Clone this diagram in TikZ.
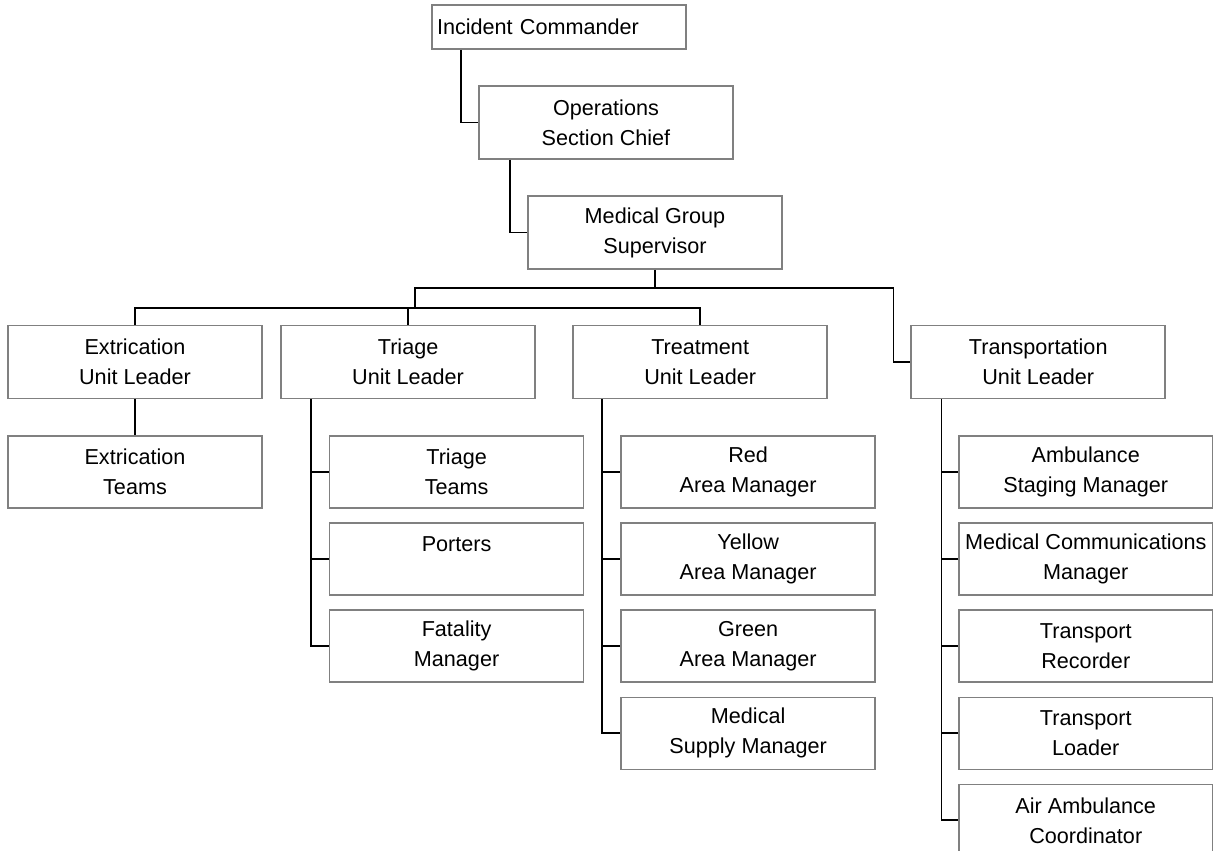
\documentclass[tikz,border=0pt]{standalone}
\usepackage{fontspec}
\setmainfont{Liberation Sans}
\usetikzlibrary{positioning,calc}
\tikzset{org-line/.style={line width=1.1pt}}
\tikzset{org-box/.style={draw=gray, line width=0.9pt, inner sep=2pt, minimum width=5.08cm, minimum height=1.46cm, align=center, font=\fontsize{12.3}{17}\selectfont}}
\tikzset{org-sub/.style={org-box, minimum height=1.44cm}}

\begin{document}
\begin{tikzpicture}
            \useasboundingbox (0,0) rectangle (24.26,-17);

            \node[org-box, minimum height=0.88cm, inner sep=0.1cm, text width=4.88cm, align=left] (ic) at (11.18,-0.54) {Incident Commander};
            \node[org-box] (osc) at (12.12,-2.45) {Operations\\Section Chief};
            \node[org-box] (mgs) at (13.1,-4.65) {Medical Group\\Supervisor};

            \node[org-box] (ext) at (2.7,-7.24) {Extrication\\Unit Leader};
            \node[org-box, right=0.35cm of ext] (tri) {Triage\\Unit Leader};
            \node[org-box, right=0.73cm of tri] (trt) {Treatment\\Unit Leader};
            \node[org-box, right=1.65cm of trt] (trn) {Transportation\\Unit Leader};

            \node[org-sub, below=0.72cm of ext] (extt) {Extrication\\Teams};

            \node[org-sub, below=0.72cm of tri.south, xshift=0.97cm] (tt) {Triage\\Teams};
            \node[org-sub, below=0.27cm of tt] (por) {Porters\\~};
            \node[org-sub, below=0.27cm of por] (fat) {Fatality\\Manager};

            \node[org-sub, below=0.72cm of trt.south, xshift=0.96cm] (red) {Red\\Area Manager};
            \node[org-sub, below=0.27cm of red] (yel) {Yellow\\Area Manager};
            \node[org-sub, below=0.27cm of yel] (grn) {Green\\Area Manager};
            \node[org-sub, below=0.27cm of grn] (sup) {Medical\\Supply Manager};

            \node[org-sub, below=0.72cm of trn.south, xshift=0.95cm] (amb) {Ambulance\\Staging Manager};
            \node[org-sub, below=0.27cm of amb] (com) {Medical Communications\\Manager};
            \node[org-sub, below=0.27cm of com] (rec) {Transport\\Recorder};
            \node[org-sub, below=0.27cm of rec] (lod) {Transport\\Loader};
            \node[org-sub, below=0.27cm of lod] (air) {Air Ambulance\\Coordinator};

            \coordinate (bus-top) at (8.3,-5.76);
            \coordinate (bus-low) at (8.3,-6.16);

            \draw[org-line] ($(ic.south west)+(0.6,0)$) |- (osc.west);
            \draw[org-line] ($(osc.south west)+(0.64,0)$) |- (mgs.west);

            \draw[org-line] (mgs.south) -- (mgs.south |- bus-top);
            \draw[org-line] (bus-low) -- (bus-top) -| ($(trn.west)+(-0.34,0)$) -- (trn.west);
            \draw[org-line] (ext.north) |- (trt.north |- bus-low) -- (trt.north);
            \draw[org-line] (tri.north) -- (tri.north |- bus-low);

            \draw[org-line] (ext) -- (extt);
            \foreach \c in {tt,por,fat}
                \draw[org-line] ($(tri.south west)+(0.62,0)$) |- (\c.west);
            \foreach \c in {red,yel,grn,sup}
                \draw[org-line] ($(trt.south west)+(0.6,0)$) |- (\c.west);
            \foreach \c in {amb,com,rec,lod,air}
                \draw[org-line] ($(trn.south west)+(0.62,0)$) |- (\c.west);

        \end{tikzpicture}
\end{document}
